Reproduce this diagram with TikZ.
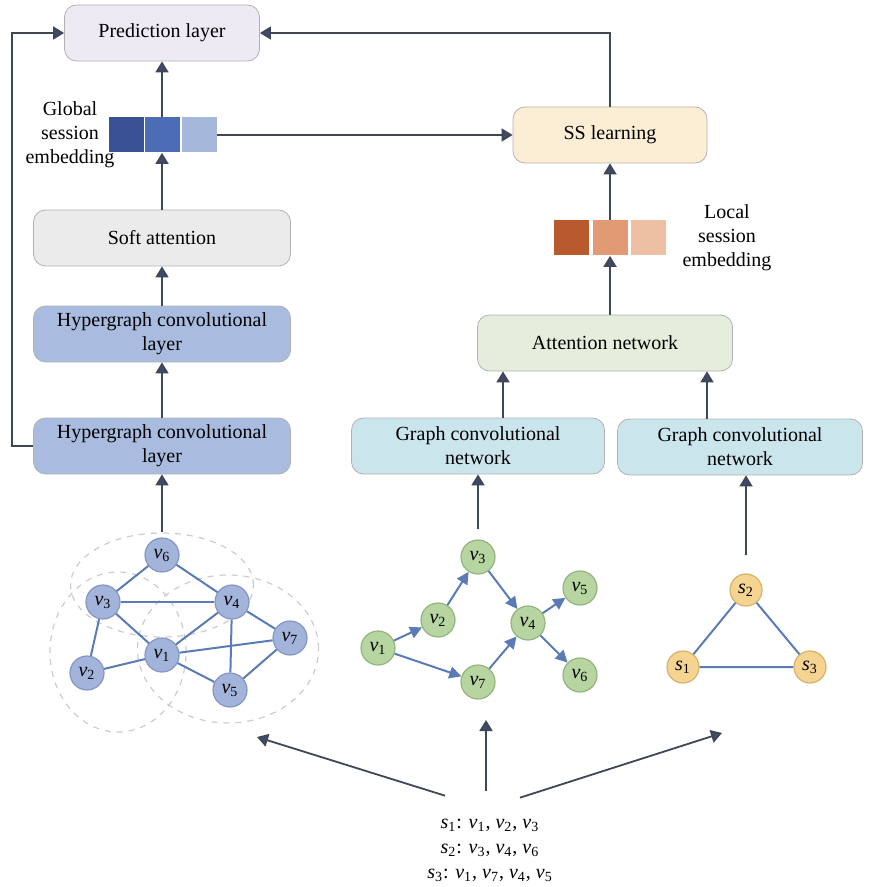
\documentclass[tikz,border=0pt]{standalone}
\usepackage{fontspec}
\setmainfont{Liberation Serif}
\usetikzlibrary{arrows.meta,positioning,shapes.geometric}

\definecolor{seta}{HTML}{3F4656}
\definecolor{ponta}{HTML}{3E4A6E}
\definecolor{aresta}{HTML}{5A7BB5}
\definecolor{hnofill}{HTML}{A3B4DA}\definecolor{hnodraw}{HTML}{8396C4}
\definecolor{gnofill}{HTML}{B6D5A0}\definecolor{gnodraw}{HTML}{93B47E}
\definecolor{snofill}{HTML}{F5D391}\definecolor{snodraw}{HTML}{D6B26C}
\newcommand{\vx}[1]{\textit{v}\textsubscript{#1}}
\newcommand{\sx}[1]{\textit{s}\textsubscript{#1}}

\begin{document}
\begin{tikzpicture}[x=0.5pt,y=-0.5pt, %Escala em pixels
	font=\fontsize{10}{12}\selectfont,
	caixa/.style={draw=gray!60, rounded corners=6pt, minimum height=28pt, align=center, inner sep=1pt},
	fluxo/.style={-{Triangle[width=6.5pt,length=5.5pt,fill=ponta]}, draw=seta, line width=0.9pt},
	quad/.style={minimum size=17.5pt, inner sep=0pt},
	hno/.style={circle, fill=hnofill, draw=hnodraw, line width=0.6pt, minimum size=17pt, inner sep=0pt},
	gno/.style={circle, fill=gnofill, draw=gnodraw, line width=0.6pt, minimum size=17pt, inner sep=0pt},
	sno/.style={circle, fill=snofill, draw=snodraw, line width=0.6pt, minimum size=16pt, inner sep=0pt},
	hiper/.style={ellipse, draw=gray!40, dashed, line width=0.6pt, inner sep=0pt},
	lig/.style={draw=aresta, line width=1pt},
	dir/.style={lig, -{Triangle[width=6pt,length=6pt]}}]
	\useasboundingbox (0,0) rectangle (868,887); %Margens da figura
		%Caixas
	\node[caixa, fill={rgb,255:red,237;green,234;blue,243}, minimum width=97.5pt] (pred) at (162,33) {Prediction layer};
	\node[caixa, fill={rgb,255:red,251;green,238;blue,213}, minimum width=97pt] (ss) at (610,135) {SS learning};
	\node[caixa, fill={rgb,255:red,235;green,235;blue,235}, minimum width=128.5pt] (soft) at (162,238) {Soft attention};
	\node[caixa, fill={rgb,255:red,169;green,188;blue,223}, minimum width=128.5pt] (hg1) at (162,334) {Hypergraph convolutional\\layer};
	\node[caixa, fill={rgb,255:red,169;green,188;blue,223}, minimum width=128.5pt] (hg2) at (162,446) {Hypergraph convolutional\\layer};
	\node[caixa, fill={rgb,255:red,229;green,238;blue,220}, minimum width=127.5pt] (att) at (605,343) {Attention network};
	\node[caixa, fill={rgb,255:red,203;green,229;blue,236}, minimum width=126.5pt] (gcn1) at (478,446) {Graph convolutional\\network};
	\node[caixa, fill={rgb,255:red,203;green,229;blue,236}, minimum width=122.5pt] (gcn2) at (740,447) {Graph convolutional\\network};
		%Embeddings
	\node[quad, fill={rgb,255:red,58;green,82;blue,147}] (g1) at (126,135) {};
	\node[quad, fill={rgb,255:red,74;green,109;blue,181}] (g2) at (162,135) {};
	\node[quad, fill={rgb,255:red,165;green,184;blue,220}] (g3) at (199,135) {};
	\node[align=center] (gtxt) at (70,135) {Global\\session\\embedding};
	\node[quad, fill={rgb,255:red,184;green,90;blue,46}] (l1) at (571,238) {};
	\node[quad, fill={rgb,255:red,225;green,154;blue,116}] (l2) at (610,238) {};
	\node[quad, fill={rgb,255:red,237;green,192;blue,164}] (l3) at (648,238) {};
	\node[align=center] (ltxt) at (727,238) {Local\\session\\embedding};
		%Hipergrafo
	\node[hiper, minimum width=91.5pt, minimum height=52pt] (e1) at (162,585) {};
	\node[hiper, minimum width=68pt, minimum height=80pt] (e2) at (118,652) {};
	\node[hiper, minimum width=90.5pt, minimum height=74pt] (e3) at (228,649) {};
	\node[hno] (h6) at (162,555) {\vx{6}};
	\node[hno] (h3) at (103,602) {\vx{3}};
	\node[hno] (h4) at (232,602) {\vx{4}};
	\node[hno] (h7) at (290,638) {\vx{7}};
	\node[hno] (h1) at (162,655) {\vx{1}};
	\node[hno] (h2) at (87,673) {\vx{2}};
	\node[hno] (h5) at (230,690) {\vx{5}};
	\foreach \a/\b in {h6/h3,h6/h4,h3/h4,h3/h2,h3/h1,h1/h4,h1/h2,h1/h7,h1/h5,h4/h5,h4/h7,h7/h5}
		\draw[lig] (\a) -- (\b);
		%Grafo de sessao
	\node[gno] (a3) at (478,557) {\vx{3}};
	\node[gno] (a2) at (438,620) {\vx{2}};
	\node[gno] (a1) at (378,648) {\vx{1}};
	\node[gno] (a7) at (478,682) {\vx{7}};
	\node[gno] (a4) at (528,623) {\vx{4}};
	\node[gno] (a5) at (580,588) {\vx{5}};
	\node[gno] (a6) at (580,675) {\vx{6}};
	\foreach \a/\b in {a1/a2,a2/a3,a3/a4,a1/a7,a7/a4,a4/a5,a4/a6}
		\draw[dir] (\a) -- (\b);
		%Grafo de linhas
	\node[sno] (s2) at (746,590) {\sx{2}};
	\node[sno] (s1) at (683,667) {\sx{1}};
	\node[sno] (s3) at (810,667) {\sx{3}};
	\draw[lig] (s1) -- (s2) -- (s3) -- (s1);
		%Sessoes
	\node[align=center, font=\fontsize{10}{12.5}\selectfont] (seq) at (490,850) {\sx{1}: \vx{1}, \vx{2}, \vx{3}\\ \sx{2}: \vx{3}, \vx{4}, \vx{6}\\ \sx{3}: \vx{1}, \vx{7}, \vx{4}, \vx{5}};
	\coordinate (pl) at (257,737);
	\coordinate (pm) at (486,720);
	\coordinate (pr) at (722,733);
		%Setas
	\draw[fluxo] (g2.north) -- (pred.south);
	\draw[fluxo] (soft.north) -- (g2.south);
	\draw[fluxo] (hg1.north) -- (soft.south);
	\draw[fluxo] (hg2.north) -- (hg1.south);
	\draw[fluxo] (e1.north) -- (hg2.south);
	\draw[fluxo] (hg2.west) -- ++(-21,0) |- (pred.west); %Ligacao lateral
	\draw[fluxo] (g3.east) -- (ss.west);
	\draw[fluxo] (ss.north) |- (pred.east);
	\draw[fluxo] (l2.north) -- (ss.south);
	\draw[fluxo] (att.north -| l2) -- (l2.south);
	\draw[fluxo] ([xshift=12.5pt]gcn1.north) -- ([xshift=12.5pt]gcn1.north |- att.south);
	\draw[fluxo] ([xshift=-16.5pt]gcn2.north) -- ([xshift=-16.5pt]gcn2.north |- att.south);
	\draw[fluxo] ([yshift=5pt]a3.north) -- (gcn1.south);
	\draw[fluxo] ([yshift=9pt]s2.north) -- (s2.north |- gcn2.south);
	\draw[fluxo] ([xshift=-22.5pt,yshift=8pt]seq.north) -- (pl);
	\draw[fluxo] ([xshift=-2pt,yshift=10.5pt]seq.north) -- (pm);
	\draw[fluxo] ([xshift=15pt,yshift=7pt]seq.north) -- (pr);
\end{tikzpicture}
\end{document}
